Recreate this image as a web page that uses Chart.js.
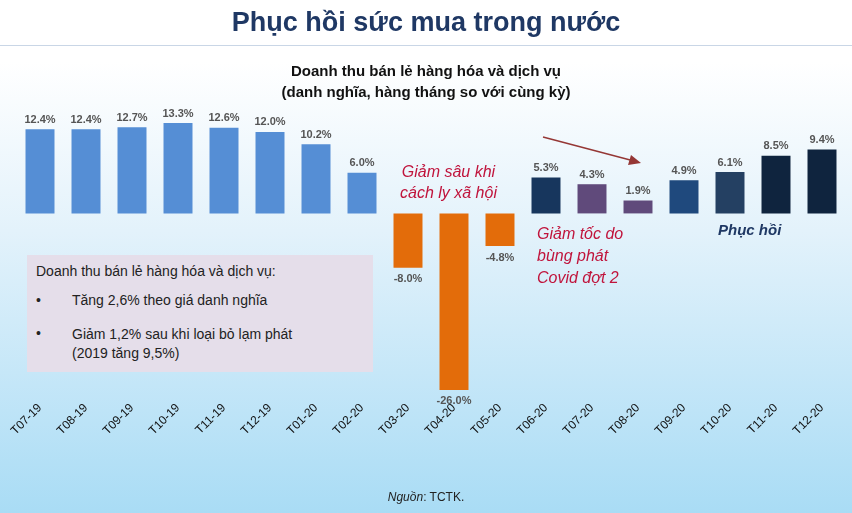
<!DOCTYPE html>
<html lang="vi">
<head>
<meta charset="UTF-8">
<title>Phục hồi sức mua trong nước</title>
<style>
  body { margin: 0; width: 852px; height: 513px; overflow: hidden; font-family: "Liberation Sans", Arial, sans-serif;
         background: linear-gradient(to bottom, #ffffff 0%, #ffffff 12%, #e3f2fb 45%, #a9dcf5 100%); position: relative; }
  #chart { position: absolute; left: 0; top: 0; }
  .t { position: absolute; white-space: nowrap; }
  #title { left: 0; width: 852px; top: 7px; text-align: center; font-size: 27px; font-weight: bold; color: #1F3864; }
  #rule { position: absolute; left: 0; top: 45px; width: 852px; height: 1px; background: #c9d6e6; }
  #sub { left: 0; width: 852px; top: 60px; text-align: center; font-size: 15px; font-weight: bold; color: #111; line-height: 21px; }
  .red { color: #C0143C; font-style: italic; font-size: 16px; line-height: 21px; }
  #box { position: absolute; left: 27px; top: 255px; width: 346px; height: 117px; background: #E5DEEA; font-size: 14px; color: #222; }
  #box div { position: absolute; }
  #src { left: 0; width: 852px; top: 490px; text-align: center; font-size: 12px; color: #222; }
</style>
</head>
<body>
<canvas id="chart" width="852" height="513"></canvas>
<div id="title" class="t">Phục hồi sức mua trong nước</div>
<div id="rule"></div>
<div id="sub" class="t">Doanh thu bán lẻ hàng hóa và dịch vụ<br>(danh nghĩa, hàng tháng so với cùng kỳ)</div>
<div class="t red" style="left:400px;top:161px;text-align:center;">Giảm sâu khi<br>cách ly xã hội</div>
<div class="t red" style="left:537px;top:223px;line-height:22px;">Giảm tốc do<br>bùng phát<br>Covid đợt 2</div>
<div class="t" style="left:718px;top:221px;font-size:15px;font-weight:bold;font-style:italic;color:#1F3864;">Phục hồi</div>
<div id="box">
  <div style="left:9px;top:8px;">Doanh thu bán lẻ hàng hóa và dịch vụ:</div>
  <div style="left:9px;top:37px;">•</div><div style="left:45px;top:37px;">Tăng 2,6% theo giá danh nghĩa</div>
  <div style="left:9px;top:70px;">•</div><div style="left:45px;top:70px;line-height:19px;">Giảm 1,2% sau khi loại bỏ lạm phát<br>(2019 tăng 9,5%)</div>
</div>
<div id="src" class="t"><i>Nguồn</i>: TCTK.</div>

<script src="https://cdn.jsdelivr.net/npm/chart.js"></script>
<script>
const months = ['T07-19','T08-19','T09-19','T10-19','T11-19','T12-19','T01-20','T02-20','T03-20','T04-20',
                'T05-20','T06-20','T07-20','T08-20','T09-20','T10-20','T11-20','T12-20'];
const growth = [12.4, 12.4, 12.7, 13.3, 12.6, 12.0, 10.2, 6.0, -8.0, -26.0, -4.8, 5.3, 4.3, 1.9, 4.9, 6.1, 8.5, 9.4];
const barColors = ['#558ED5','#558ED5','#558ED5','#558ED5','#558ED5','#558ED5','#558ED5','#558ED5',
                   '#E36C0A','#E36C0A','#E36C0A',
                   '#17365D','#604A7B','#604A7B','#1F497D','#244062','#0F243E','#0F243E'];

const valueLabels = {
  id: 'valueLabels',
  afterDatasetsDraw(chart) {
    const ctx = chart.ctx;
    const meta = chart.getDatasetMeta(0);
    ctx.save();
    ctx.font = 'bold 11px "Liberation Sans", Arial';
    ctx.fillStyle = '#555';
    ctx.textAlign = 'center';
    meta.data.forEach((bar, i) => {
      const v = growth[i];
      ctx.textBaseline = v >= 0 ? 'bottom' : 'top';
      ctx.fillText(v.toFixed(1) + '%', bar.x, v >= 0 ? bar.y - 4 : bar.y + 6);
    });
    // arrow
    ctx.strokeStyle = '#953735'; ctx.fillStyle = '#953735'; ctx.lineWidth = 1.5;
    ctx.beginPath(); ctx.moveTo(543, 137); ctx.lineTo(634, 161); ctx.stroke();
    ctx.beginPath(); ctx.moveTo(641, 163); ctx.lineTo(631, 155); ctx.lineTo(628, 165); ctx.closePath(); ctx.fill();
    ctx.restore();
  }
};

new Chart(document.getElementById('chart'), {
  type: 'bar',
  data: { labels: months, datasets: [{ data: growth, backgroundColor: barColors, categoryPercentage: 1, barPercentage: 0.63 }] },
  options: {
    responsive: false, animation: false,
    layout: { padding: { top: 98, left: 17, right: 7, bottom: 72 } },
    plugins: { legend: { display: false }, tooltip: { enabled: false } },
    scales: {
      x: { position: 'bottom', grid: { display: false }, border: { display: false },
           ticks: { minRotation: 45, maxRotation: 45, color: '#111', font: { size: 12, family: '"Liberation Sans", Arial' } } },
      y: { display: false, min: -26, max: 17 }
    }
  },
  plugins: [valueLabels]
});
</script>
</body>
</html>
